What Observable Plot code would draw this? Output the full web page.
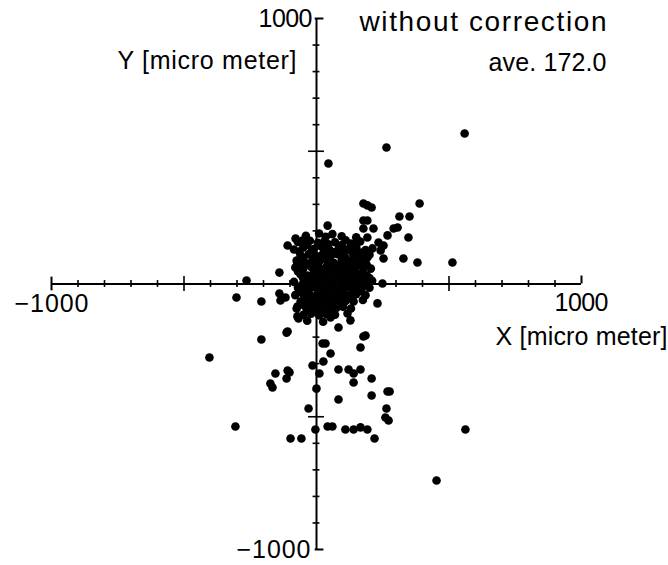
<!DOCTYPE html>
<html><head><meta charset="utf-8">
<script src="https://cdn.jsdelivr.net/npm/d3@7"></script>
<script src="https://cdn.jsdelivr.net/npm/@observablehq/plot@0.6"></script>
<style>body{margin:0;background:#fff}</style>
</head><body><div id="chart"></div>
<script>
// Outlying points (micro meter)
const outerX = [559,264,45,389,313,351,177,208,192,177,215,291,306,192,268,347,234,253,211,140,192,253,328,381,513,242,140,192,230,185,166,249,42,177,
  -264,-302,-208,-140,-140,-117,-109,-53,-72,-404,-306,-208,-113,-155,-109,-102,-113,-174,-166,-98,-57,-15,23,34,53,26,11,0,-30,-4,42,60,
  83,121,140,166,140,208,83,208,268,276,264,260,272,109,140,166,192,219,562,453,177,34,53,117,128,83,-68,-109,-136,-72,-72,-79,128];
const outerY = [567,514,454,303,254,254,303,288,239,209,209,209,213,175,183,175,156,145,134,145,100,96,96,81,81,126,107,296,-73,-194,-239,2,220,239,
  13,-51,-66,43,-36,-51,145,164,77,-277,-537,-209,-183,-337,-326,-333,-356,-375,-390,-582,-582,-307,-224,-224,-262,-292,-337,-394,-469,-548,-537,-537,
  -322,-322,-337,-322,-371,-356,-435,-420,-405,-405,-469,-503,-514,-548,-548,-540,-548,-582,-548,-740,-198,-111,-126,-111,-137,-164,-130,-179,-62,-85,-122,171,137];
// Dense central cluster (micro meter)
const coreX = [-40,10,35,60,95,150,
  -70,-25,5,30,70,110,130,165,
  -85,-50,-10,20,50,85,115,150,185,
  -60,-30,0,25,55,80,105,140,170,200,
  -75,-45,-15,10,40,65,95,125,155,185,
  -80,-50,-20,15,35,60,90,115,145,175,205,
  -60,-35,-5,20,50,75,100,130,160,190,
  -85,-45,-15,10,40,65,95,120,150,180,210,
  -70,-40,-10,25,50,80,110,140,170,200,
  -80,-50,-20,5,35,60,90,120,150,185,
  -60,-30,0,30,55,85,110,140,175,
  -75,-40,-10,20,45,75,100,130,
  -50,-20,10,40,70,
  -35,25,
  -35,15,45,95,140,
  -65,-20,35,70,100,130,165,
  -50,-5,25,50,110,140,170,
  -60,-30,0,50,75,105,130,160,190,
  -70,-10,5,35,85,115,145,175,
  -50,-25,5,30,60,85,110,140,170,200,
  -55,-25,0,35,65,95,125,155,185,
  -60,-30,10,40,70,100,135,165,
  -40,-10,15,45,75,100,130,
  -50,-20,10,40,65,95,
  -30,0,30,60];
const coreY = [182,190,178,188,180,176,
  158,163,155,162,157,165,152,160,
  130,138,132,140,128,136,130,138,128,
  108,112,105,115,108,112,104,114,106,110,
  88,82,90,84,86,80,90,84,88,82,
  62,58,64,56,62,58,64,56,60,64,58,
  36,32,38,30,36,34,38,30,36,32,
  8,12,6,14,8,12,6,14,10,6,12,
  -14,-18,-12,-16,-10,-18,-14,-12,-18,-14,
  -42,-38,-44,-36,-42,-40,-36,-44,-38,-42,
  -66,-62,-68,-64,-62,-68,-64,-66,-60,
  -92,-88,-94,-86,-92,-90,-86,-92,
  -116,-112,-118,-114,-116,
  -138,-142,
  147,145,150,147,148,
  122,120,124,120,122,124,118,
  97,95,100,96,98,95,96,
  72,74,70,74,70,73,70,74,70,
  47,49,45,48,46,44,48,46,
  22,24,20,25,22,24,20,22,25,22,
  -3,-1,-5,-2,-4,-1,-3,-2,-4,
  -28,-26,-30,-27,-29,-26,-28,-27,
  -53,-51,-55,-52,-54,-50,-55,
  -78,-76,-80,-77,-79,-76,
  -103,-101,-104,-102];
const minorTicks = [-900,-800,-700,-600,-400,-300,-200,-100,100,200,300,400,600,700,800,900];
const majorTicks = [-500,500];
const axisLimits = [-1000,1000];
const titleText = "without correction";
const subtitleText = "ave. 172.0";
const xLabel = "X [micro meter]";
const yLabel = "Y [micro meter]";

const points = outerX.map((x,i)=>({x, y: outerY[i]}))
  .concat(coreX.map((x,i)=>({x, y: coreY[i]})));

const fs = 25;
const font = "Liberation Sans, Arial, Helvetica, sans-serif";
const chart = Plot.plot({
  width: 668, height: 565,
  marginLeft: 51, marginRight: 87, marginTop: 18, marginBottom: 16,
  x: {domain: axisLimits, axis: null},
  y: {domain: axisLimits, axis: null},
  style: {background: "white", fontFamily: font},
  marks: [
    Plot.ruleY([0], {x1: axisLimits[0], x2: axisLimits[1], stroke: "black", strokeWidth: 2}),
    Plot.ruleX([0], {y1: axisLimits[0], y2: axisLimits[1], stroke: "black", strokeWidth: 2}),
    // x ticks
    Plot.ruleX(minorTicks, {x: d => d, y1: -13, y2: 13, stroke: "black", strokeWidth: 1.6}),
    Plot.ruleX(majorTicks, {x: d => d, y1: -28, y2: 28, stroke: "black", strokeWidth: 1.6}),
    Plot.ruleX([axisLimits[0]], {x: d => d, y1: -26, y2: 26, stroke: "black", strokeWidth: 2}),
    Plot.ruleX([axisLimits[1]], {x: d => d, y1: 0, y2: 30, stroke: "black", strokeWidth: 2}),
    // y ticks
    Plot.ruleY(minorTicks, {y: d => d, x1: -13, x2: 13, stroke: "black", strokeWidth: 1.6}),
    Plot.ruleY(majorTicks, {y: d => d, x1: -30, x2: 30, stroke: "black", strokeWidth: 1.6}),
    Plot.ruleY(axisLimits, {y: d => d, x1: -5, x2: 28, stroke: "black", strokeWidth: 2}),
    // points
    Plot.dot(points, {x: "x", y: "y", r: 4.3, fill: "black", stroke: "none"}),
    // tick labels
    Plot.text([axisLimits[1]], {x: 0, y: d => d, text: d => String(d), textAnchor: "end", dx: -4, fontSize: fs, fill: "black"}),
    Plot.text([axisLimits[0]], {x: 0, y: d => d, text: d => "\u2212" + Math.abs(d), textAnchor: "end", dx: -6, fontSize: fs, fill: "black"}),
    Plot.text([axisLimits[0]], {x: d => d, y: 0, text: d => "\u2212" + Math.abs(d), textAnchor: "middle", dy: 20, fontSize: fs, fill: "black"}),
    Plot.text([axisLimits[1]], {x: d => d, y: 0, text: d => String(d), textAnchor: "middle", dy: 19, fontSize: fs, fill: "black"}),
    // axis labels & titles
    Plot.text([xLabel], {x: axisLimits[1], y: 0, text: d => d, textAnchor: "end", dx: 86, dy: 53, fontSize: fs, fill: "black"}),
    Plot.text([yLabel], {x: 0, y: axisLimits[1], text: d => d, textAnchor: "end", dx: -20, dy: 42, fontSize: fs, fill: "black"}),
    Plot.text([titleText], {x: 0, y: axisLimits[1], text: d => d, textAnchor: "start", dx: 43, dy: 4, fontSize: 28, fill: "black"}),
    Plot.text([subtitleText], {x: 0, y: axisLimits[1], text: d => d, textAnchor: "end", dx: 290, dy: 44, fontSize: fs, fill: "black"})
  ]
});
const widths = {"1000": 54, "\u22121000": 74, [xLabel]: 172, [yLabel]: 179, [titleText]: 247, [subtitleText]: 118};
d3.select(chart).selectAll("text").each(function() {
  const w = widths[this.textContent];
  if (w) d3.select(this).attr("textLength", w).attr("lengthAdjust", "spacing");
});
document.getElementById("chart").appendChild(chart);
</script>
</body></html>
